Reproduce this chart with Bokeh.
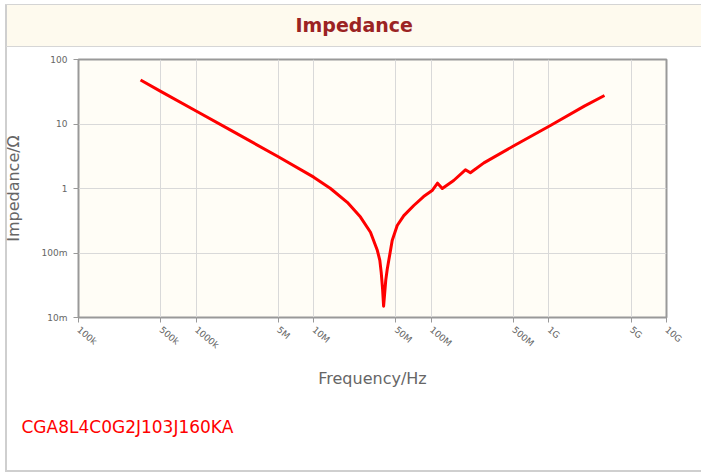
import math
from bokeh.plotting import figure
from bokeh.models import Range1d, FixedTicker, Title
from bokeh.embed import file_html
from bokeh.resources import INLINE

# ---- data ----
freq_hz = [3.37e5, 5e5, 1e6, 2e6, 5e6, 1e7, 1.39e7, 1.93e7, 2.5e7, 3.04e7,
           3.48e7, 3.65e7, 3.75e7, 3.85e7, 3.93e7, 4.0e7, 4.1e7, 4.22e7,
           4.35e7, 4.65e7, 5.13e7, 5.84e7, 7.1e7, 8.6e7, 1.016e8, 1.13e8,
           1.24e8, 1.55e8, 1.95e8, 2.15e8, 2.8e8, 5.04e8, 1.03e9, 2.0e9, 2.97e9]
impedance_ohm = [48, 32, 15.9, 7.9, 3.1, 1.5, 1.0, 0.61, 0.36, 0.21,
                 0.109, 0.077, 0.05, 0.028, 0.015, 0.022, 0.038, 0.056,
                 0.077, 0.156, 0.267, 0.38, 0.545, 0.75, 0.93, 1.21,
                 1.0, 1.33, 1.95, 1.75, 2.5, 4.6, 9.5, 18.9, 27.7]

x_ticks = [1e5, 5e5, 1e6, 5e6, 1e7, 5e7, 1e8, 5e8, 1e9, 5e9, 1e10]
x_tick_labels = ["100k", "500k", "1000k", "5M", "10M", "50M", "100M", "500M", "1G", "5G", "10G"]
y_ticks = [0.01, 0.1, 1, 10, 100]
y_tick_labels = ["10m", "100m", "1", "10", "100"]

chart_title = "Impedance"
part_number = "CGA8L4C0G2J103J160KA"

FONT = "DejaVu Sans"

# card frame + header band drawn as CSS background behind a transparent border area
card_bg = ", ".join([
    "linear-gradient(#fefaee,#fefaee) 7px 5px / 700px 41px no-repeat",
    "linear-gradient(#d6d6d6,#d6d6d6) 6px 46px / 700px 1px no-repeat",
    "linear-gradient(#d4d4d4,#d4d4d4) 5px 4px / 700px 1px no-repeat",
    "linear-gradient(#cfcfcf,#cfcfcf) 5px 4px / 2px 468px no-repeat",
    "linear-gradient(#cfcfcf,#cfcfcf) 5px 470px / 700px 2px no-repeat",
    "#ffffff",
])

p = figure(width=701, height=476, x_axis_type="log", y_axis_type="log",
           x_range=Range1d(1e5, 1e10), y_range=Range1d(0.01, 100),
           toolbar_location=None, output_backend="svg",
           min_border_left=77, min_border_right=35, min_border_top=59,
           min_border_bottom=159,
           background_fill_color="#fffdf6", border_fill_color=None,
           outline_line_color="#999999", outline_line_width=2,
           styles={"background": card_bg})

# spacer between plot frame and the header title
p.add_layout(Title(text=" ", text_font_size="1px", standoff=20), "above")
p.title = Title(text=chart_title, align="left", offset=217, standoff=2,
                text_font=FONT, text_font_style="bold", text_font_size="19px",
                text_color="#9b2323")
p.add_layout(Title(text=part_number, align="left", offset=-57, standoff=47,
                   text_font=FONT, text_font_style="normal", text_font_size="17px",
                   text_color="#ff0000"), "below")

p.xaxis.ticker = FixedTicker(ticks=x_ticks)
p.yaxis.ticker = FixedTicker(ticks=y_ticks)
p.xaxis.major_label_overrides = {float(t): l for t, l in zip(x_ticks, x_tick_labels)}
p.yaxis.major_label_overrides = {float(t): l for t, l in zip(y_ticks, y_tick_labels)}
p.xaxis.major_label_orientation = -0.7

for ax in (p.xaxis[0], p.yaxis[0]):
    ax.axis_line_color = None
    ax.major_tick_line_color = "#999999"
    ax.major_tick_out = 5
    ax.major_tick_in = 0
    ax.minor_tick_line_color = None
    ax.major_label_text_font = FONT
    ax.major_label_text_font_size = "9px"
    ax.major_label_text_color = "#666666"
    ax.axis_label_text_font = FONT
    ax.axis_label_text_font_size = "16px"
    ax.axis_label_text_font_style = "normal"
    ax.axis_label_text_color = "#666666"

p.xaxis.axis_label = "Frequency/Hz"
p.yaxis.axis_label = "Impedance/Ω"
p.xaxis.axis_label_standoff = 12
p.yaxis.axis_label_standoff = 16
p.xaxis.major_label_standoff = 6
p.yaxis.major_label_standoff = 6

p.grid.grid_line_color = "#d9d9d9"
p.grid.grid_line_width = 1

p.line(freq_hz, impedance_ohm, line_color="#ff0000", line_width=3, line_join="round")

open("out.html", "w").write(file_html(p, INLINE))
